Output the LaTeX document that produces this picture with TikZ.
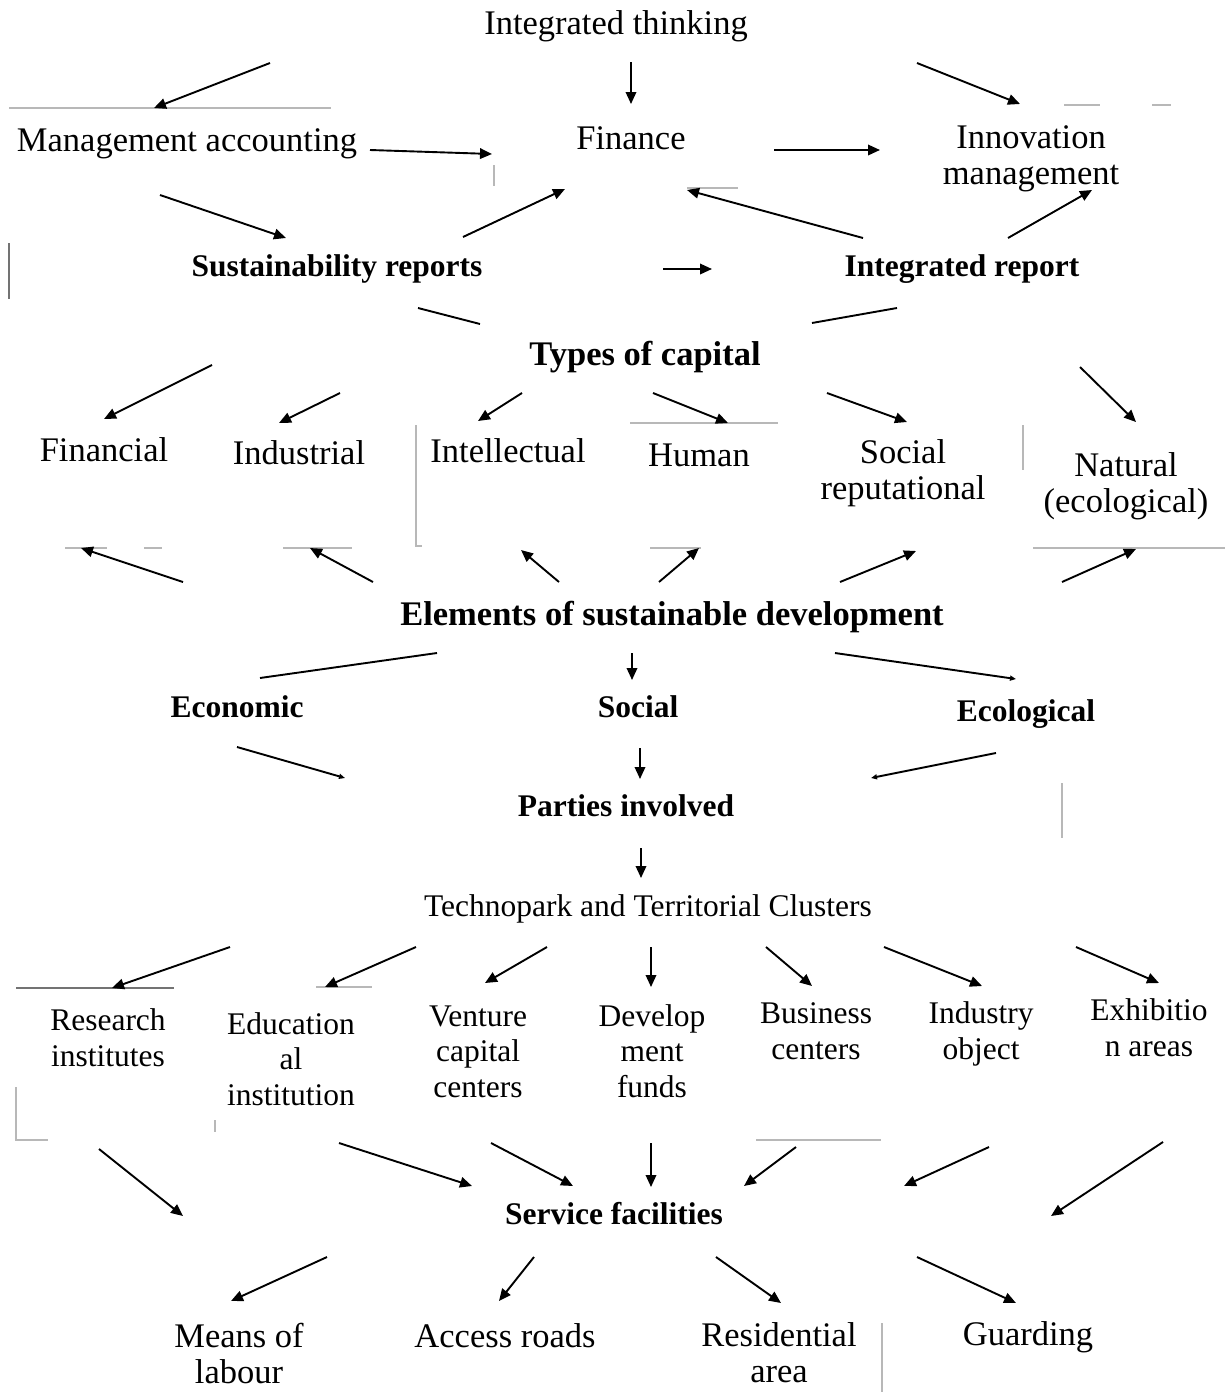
\documentclass[tikz,border=0pt]{standalone}
\usepackage{fontspec}
\setmainfont{Liberation Serif}
\usetikzlibrary{arrows.meta}
\begin{document}
\begin{tikzpicture}[x=1pt,y=-1pt,
  lbl/.style={inner sep=0pt, anchor=base, align=center, font=\fontsize{34.5}{35.5}\selectfont},
  lbs/.style={inner sep=0pt, anchor=base, align=center, font=\fontsize{31.5}{35.5}\selectfont},
  lbb/.style={inner sep=0pt, anchor=base, align=center, font=\fontsize{31.5}{35.5}\selectfont\bfseries},
  lbB/.style={inner sep=0pt, anchor=base, align=center, font=\fontsize{34.5}{35.5}\selectfont\bfseries},
  arr/.style={line width=1.9pt, -{Triangle[length=12pt,width=10.5pt]}},
  arrs/.style={line width=1.9pt, -{Triangle[length=6pt,width=5pt]}},
  lin/.style={line width=1.9pt},
  ghost/.style={line width=1.2pt, black!28},
  ghostd/.style={line width=1.4pt, black!55}]
\fill[white] (0,0) rectangle (1227,1392);
\useasboundingbox (0,0) rectangle (1227,1392);

% faint box-border remnants
\draw[ghost] (9,108) -- (331,108);
\draw[ghostd] (9,243) -- (9,299);
\draw[ghost] (494,165) -- (494,186);
\draw[ghost] (687,188) -- (738,188);
\draw[ghost] (1064,105) -- (1100,105) (1152,105) -- (1171,105);
\draw[ghost] (65,548) -- (107,548) (144,548) -- (162,548) (283,548) -- (352,548);
\draw[ghost] (416,425) -- (416,546) -- (422,546);
\draw[ghost] (630,423) -- (778,423);
\draw[ghost] (650,548) -- (701,548);
\draw[ghost] (1023,425) -- (1023,470);
\draw[ghost] (1033,548) -- (1225,548);
\draw[ghost] (1062,783) -- (1062,838);
\draw[ghostd] (16,988) -- (174,988);
\draw[ghost] (316,987) -- (372,987);
\draw[ghost] (16,1087) -- (16,1140) -- (48,1140);
\draw[ghost] (215,1120) -- (215,1132);
\draw[ghost] (756,1140) -- (881,1140);
\draw[ghost] (882,1323) -- (882,1392);

% texts (anchor=base: multi-line nodes sit on the baseline of their last line)
\node[lbl] (it) at (616,34) {Integrated thinking};
\node[lbl] (ma) at (187,151) {Management accounting};
\node[lbl] (fin) at (631,149) {Finance};
\node[lbl] (im) at (1031,184) {Innovation\\management};
\node[lbb] (sr) at (337,276) {Sustainability reports};
\node[lbb] (ir) at (962,276) {Integrated report};
\node[lbB] (tc) at (645,365) {Types of capital};
\node[lbl] (fc) at (104,461) {Financial};
\node[lbl] (ind) at (299,464) {Industrial};
\node[lbl] (int) at (508,462) {Intellectual};
\node[lbl] (hum) at (699,466) {Human};
\node[lbl] (soc) at (903,499) {Social\\reputational};
\node[lbl] (nat) at (1126,512) {Natural\\(ecological)};
\node[lbB] (esd) at (672,625) {Elements of sustainable development};
\node[lbb] (eco) at (237,717) {Economic};
\node[lbb] (socl) at (638,717) {Social};
\node[lbb] (ecol) at (1026,721) {Ecological};
\node[lbb] (pi) at (626,816) {Parties involved};
\node[lbs] (tp) at (648,916) {Technopark and Territorial Clusters};
\node[lbs] (ri) at (108,1066) {Research\\institutes};
\node[lbs] (edu) at (291,1105) {Education\\al\\institution};
\node[lbs] (ven) at (478,1097) {Venture\\capital\\centers};
\node[lbs] (dev) at (652,1097) {Develop\\ment\\funds};
\node[lbs] (bus) at (816,1059) {Business\\centers};
\node[lbs] (iob) at (981,1059) {Industry\\object};
\node[lbs] (exh) at (1149,1056) {Exhibitio\\n areas};
\node[lbb] (sf) at (614,1224) {Service facilities};
\node[lbl] (mol) at (239,1383) {Means of\\labour};
\node[lbl] (ar) at (505,1347) {Access roads};
\node[lbl] (ra) at (779,1382) {Residential\\area};
\node[lbl] (gu) at (1028,1345) {Guarding};

% connectors (free-floating, as in the reference)
\foreach \n/\sx/\sy/\ex/\ey in {
  itma/270/63/154/108, itfin/631/62/631/104, itim/917/63/1020/104,
  mafin/370/150/492/154, finim/774/150/880/150, masr/160/195/286/238,
  srfin/463/237/565/189, irfin/863/238/687/190, irim/1008/238/1092/190,
  srir/663/269/712/269,
  tcfc/212/365/104/419, tcind/340/393/279/423, tcint/522/393/478/421,
  tchum/653/393/728/423, tcsoc/827/393/907/422, tcnat/1080/367/1136/422,
  esdfc/183/582/81/548, esdind/373/582/310/548, esdint/559/582/521/550,
  esdhum/659/582/699/548, esdsoc/840/582/916/551, esdnat/1062/582/1136/549,
  esdsocl/632/653/632/680, soclpi/640/748/640/779, pitp/641/848/641/878,
  tpri/230/947/112/988, tpedu/416/947/325/987, tpven/547/947/485/983,
  tpdev/651/947/651/987, tpbus/766/947/812/986, tpiob/884/947/982/986,
  tpexh/1076/947/1159/983,
  risf/99/1149/183/1216, edusf/339/1143/472/1186, vensf/491/1143/573/1186,
  devsf/651/1143/651/1187, bussf/796/1147/744/1186, iobsf/989/1147/904/1186,
  exhsf/1163/1142/1051/1216,
  sfmol/327/1257/231/1301, sfar/534/1257/499/1301, sfra/716/1257/781/1303,
  sfgu/917/1257/1016/1303}
{
  \coordinate (\n s) at (\sx,\sy);
  \coordinate (\n e) at (\ex,\ey);
  \draw[arr] (\n s) -- (\n e);
}
\foreach \n/\sx/\sy/\ex/\ey in {
  esdecol/835/653/1016/679, ecopi/237/747/345/778, ecolpi/996/753/871/778}
{
  \coordinate (\n s) at (\sx,\sy);
  \coordinate (\n e) at (\ex,\ey);
  \draw[arrs] (\n s) -- (\n e);
}
\foreach \n/\sx/\sy/\ex/\ey in {
  srtc/418/308/480/324, irtc/897/308/812/323, esdeco/437/653/260/678}
{
  \coordinate (\n s) at (\sx,\sy);
  \coordinate (\n e) at (\ex,\ey);
  \draw[lin] (\n s) -- (\n e);
}
\end{tikzpicture}
\end{document}
